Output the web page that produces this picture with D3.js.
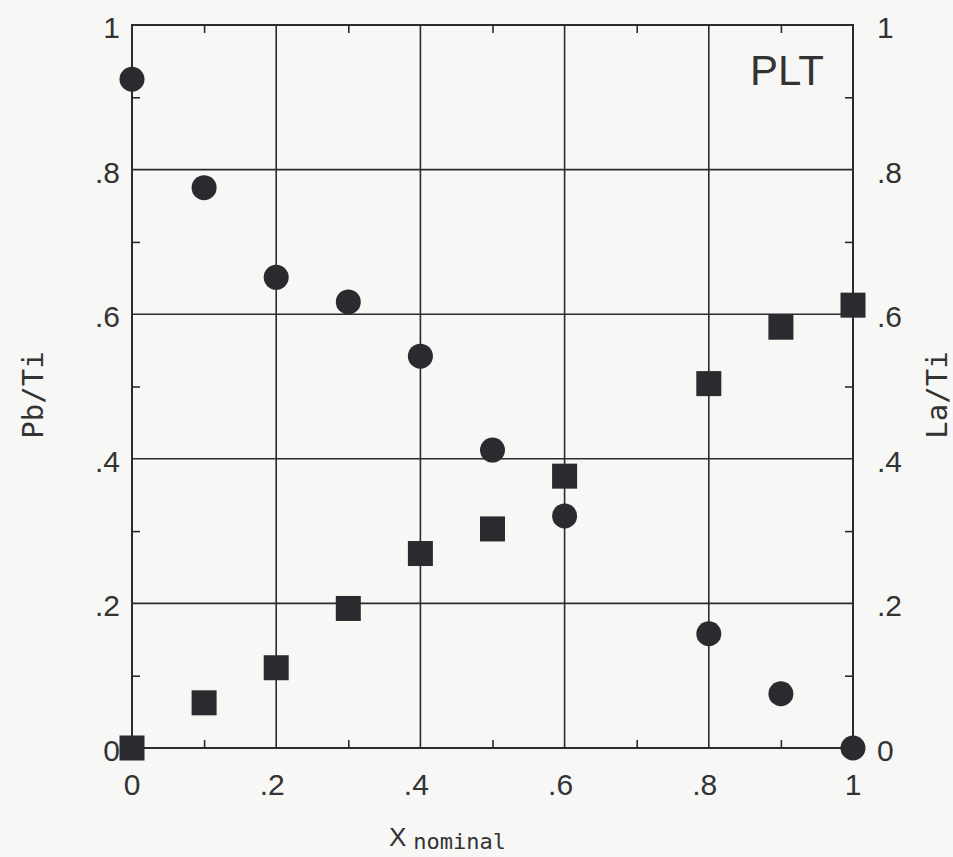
<!DOCTYPE html>
<html>
<head>
<meta charset="utf-8">
<script src="https://cdn.jsdelivr.net/npm/d3@7"></script>
<style>
  html, body { margin: 0; padding: 0; background: #f7f7f6; }
  svg { display: block; }
</style>
</head>
<body>
<svg id="chart" width="953" height="857"></svg>
<script>
// Nominal composition x of the PLT series
const xNominal = [0, 0.1, 0.2, 0.3, 0.4, 0.5, 0.6, 0.8, 0.9, 1.0];
// Pb/Ti ratio (circles, left axis)
const pbTi = [0.925, 0.775, 0.651, 0.617, 0.542, 0.412, 0.321, 0.158, 0.075, 0];
// La/Ti ratio (squares, right axis)
const laTi = [0, 0.0625, 0.111, 0.193, 0.269, 0.303, 0.376, 0.504, 0.582, 0.6125];

// Axis ticks
const majorTicks = [0, 0.2, 0.4, 0.6, 0.8, 1];
const majorLabels = ["0", ".2", ".4", ".6", ".8", "1"];
const minorTicks = [0.1, 0.3, 0.5, 0.7, 0.9];
const gridTicks = [0.2, 0.4, 0.6, 0.8];

(function draw() {
  const ink = "#2b2a2e";
  const labelFont = "'Liberation Sans', Arial, sans-serif";
  const monoFont = "'DejaVu Sans Mono', monospace";

  const svg = d3.select("#chart");
  const pLeft = 132, pRight = 853, pTop = 25, pBottom = 748;
  const W = pRight - pLeft, H = pBottom - pTop;

  const x = d3.scaleLinear().domain([0, 1]).range([pLeft, pRight]);
  const yL = d3.scaleLinear().domain([0, 1]).range([pBottom, pTop]);
  const yR = d3.scaleLinear().domain([0, 1]).range([pBottom, pTop]);

  // Grid lines
  const grid = svg.append("g").attr("stroke", ink).attr("stroke-width", 1.6);
  grid.selectAll("line.gx").data(gridTicks).join("line").attr("class", "gx")
    .attr("x1", d => x(d)).attr("x2", d => x(d))
    .attr("y1", pTop).attr("y2", pBottom);
  grid.selectAll("line.gy").data(gridTicks).join("line").attr("class", "gy")
    .attr("y1", d => yL(d)).attr("y2", d => yL(d))
    .attr("x1", pLeft).attr("x2", pRight);

  // Minor ticks, pointing inward on all four sides
  const tickLen = 8;
  function minorAxis(axis, transform) {
    const g = svg.append("g").attr("transform", transform)
      .call(axis.tickValues(minorTicks).tickSize(tickLen).tickFormat(""));
    g.select(".domain").remove();
    g.selectAll(".tick line").attr("stroke", ink).attr("stroke-width", 1.6);
    return g;
  }
  minorAxis(d3.axisTop(x), `translate(0,${pBottom})`);
  minorAxis(d3.axisBottom(x), `translate(0,${pTop})`);
  minorAxis(d3.axisRight(yL), `translate(${pLeft},0)`);
  minorAxis(d3.axisLeft(yR), `translate(${pRight},0)`);

  // Frame
  svg.append("rect")
    .attr("x", pLeft).attr("y", pTop).attr("width", W).attr("height", H)
    .attr("fill", "none").attr("stroke", ink).attr("stroke-width", 2);

  // Tick labels
  const fs = 30;
  const bottomLabels = svg.append("g").attr("font-family", labelFont)
    .attr("font-size", fs).attr("fill", "#333");
  bottomLabels.selectAll("text").data(majorTicks).join("text")
    .attr("x", d => x(d) + 8.5)
    .attr("y", 795)
    .attr("text-anchor", "end")
    .text((d, i) => majorLabels[i]);

  const leftLabels = svg.append("g").attr("font-family", labelFont)
    .attr("font-size", fs).attr("fill", "#333");
  leftLabels.selectAll("text").data(majorTicks).join("text")
    .attr("x", 120)
    .attr("y", d => yL(d) + 13)
    .attr("text-anchor", "end")
    .text((d, i) => majorLabels[i]);

  const rightLabels = svg.append("g").attr("font-family", labelFont)
    .attr("font-size", fs).attr("fill", "#333");
  rightLabels.selectAll("text").data(majorTicks).join("text")
    .attr("x", 877)
    .attr("y", d => yR(d) + 13)
    .attr("text-anchor", "start")
    .text((d, i) => majorLabels[i]);

  // Axis titles
  svg.append("text")
    .attr("transform", "translate(43,395) rotate(-90)")
    .attr("text-anchor", "middle")
    .attr("font-family", monoFont).attr("font-size", 29).attr("fill", "#333")
    .text("Pb/Ti");
  svg.append("text")
    .attr("transform", "translate(947,395) rotate(-90)")
    .attr("text-anchor", "middle")
    .attr("font-family", monoFont).attr("font-size", 29).attr("fill", "#333")
    .text("La/Ti");

  const xt = svg.append("text").attr("x", 389).attr("y", 846)
    .attr("fill", "#333").attr("font-family", labelFont);
  xt.append("tspan").attr("font-size", 26).text("X");
  xt.append("tspan").attr("font-family", monoFont).attr("font-size", 22)
    .attr("dx", 7).attr("dy", 3).text("nominal");

  // Series label
  svg.append("text")
    .attr("x", 750).attr("y", 85)
    .attr("font-family", labelFont).attr("font-size", 42).attr("fill", "#333")
    .text("PLT");

  // Pb/Ti circles
  svg.append("g").selectAll("circle").data(xNominal).join("circle")
    .attr("cx", d => x(d))
    .attr("cy", (d, i) => yL(pbTi[i]))
    .attr("r", 12.5)
    .attr("fill", ink);

  // La/Ti squares
  const sq = 25;
  svg.append("g").selectAll("rect").data(xNominal).join("rect")
    .attr("x", d => x(d) - sq / 2)
    .attr("y", (d, i) => yR(laTi[i]) - sq / 2)
    .attr("width", sq).attr("height", sq)
    .attr("fill", ink);
})();
</script>
</body>
</html>
